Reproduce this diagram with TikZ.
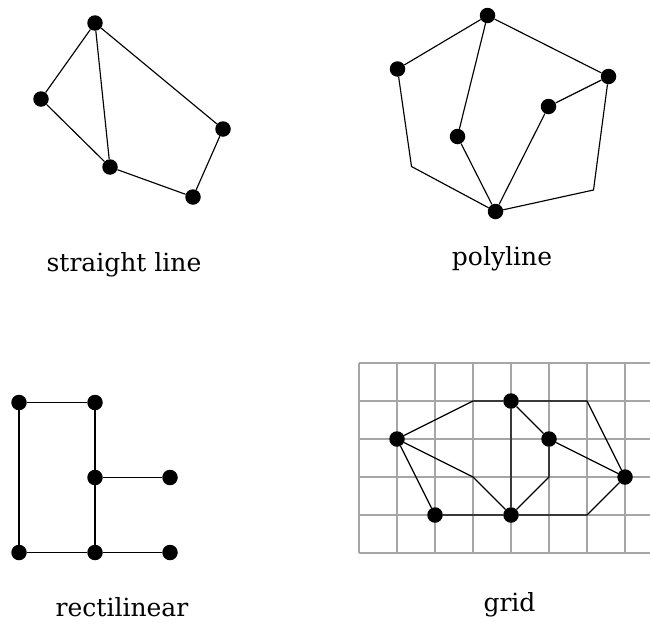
\documentclass[tikz,border=0pt]{standalone}
\usepackage{fontspec}
\setmainfont{DejaVu Serif}
\begin{document}
\begin{tikzpicture}[x=1pt,y=-1pt,
  vtx/.style={circle,fill=black,inner sep=0pt,minimum size=15.5pt},
  edge/.style={draw=black,line width=1.15pt},
  gridline/.style={draw=black!35,line width=1.4pt},
  lbl/.style={anchor=base,font=\fontsize{25}{30}\selectfont,inner sep=0pt}]
\useasboundingbox (0,0) rectangle (650,624);

% ---- straight line
\node[vtx] (a1) at (95,23) {};
\node[vtx] (a2) at (41,99) {};
\node[vtx] (a3) at (223,129) {};
\node[vtx] (a4) at (110,167) {};
\node[vtx] (a5) at (193,197) {};
\draw[edge] (a1)--(a2) (a1)--(a4) (a1)--(a3) (a2)--(a4) (a4)--(a5) (a5)--(a3);
\node[lbl] (l1) at (124,271.5) {straight line};

% ---- polyline
\node[vtx] (b1) at (487.5,15.5) {};
\node[vtx] (b2) at (397.5,69) {};
\node[vtx] (b3) at (608.5,76.5) {};
\node[vtx] (b4) at (548.5,106.5) {};
\node[vtx] (b5) at (457.5,136.5) {};
\node[vtx] (b6) at (495.5,211.5) {};
\coordinate (bb1) at (411.5,166.5);
\coordinate (bb2) at (593.5,190);
\draw[edge] (b1)--(b2) (b1)--(b3) (b1)--(b5) (b5)--(b6) (b6)--(b4) (b4)--(b3);
\draw[edge] (b2)--(bb1)--(b6);
\draw[edge] (b3)--(bb2)--(b6);
\node[lbl] (l2) at (502,265) {polyline};

% ---- rectilinear
\node[vtx] (c1) at (19,402.5) {};
\node[vtx] (c2) at (95,402.5) {};
\node[vtx] (c3) at (95,477.5) {};
\node[vtx] (c4) at (170,477.5) {};
\node[vtx] (c5) at (19,552.5) {};
\node[vtx] (c6) at (95,552.5) {};
\node[vtx] (c7) at (170,552.5) {};
\draw[edge] (c1)--(c2) (c1)--(c5) (c2)--(c3) (c3)--(c4) (c3)--(c6) (c5)--(c6) (c6)--(c7);
\node[lbl] (l3) at (122,616.5) {rectilinear};

% ---- grid
\foreach \i in {0,...,7} \draw[gridline] (359+38*\i,363)--(359+38*\i,553);
\foreach \j in {0,...,5} \draw[gridline] (359,363+38*\j)--(650,363+38*\j);
\node[vtx] (d1) at (511,401) {};
\node[vtx] (d2) at (397,439) {};
\node[vtx] (d3) at (549,439) {};
\node[vtx] (d4) at (625,477) {};
\node[vtx] (d5) at (435,515) {};
\node[vtx] (d6) at (511,515) {};
\coordinate (g1) at (473,401);
\coordinate (g2) at (587,401);
\coordinate (g3) at (549,477);
\coordinate (g4) at (473,477);
\coordinate (g5) at (587,515);
\draw[edge] (d2)--(g1)--(d1);
\draw[edge] (d1)--(g2)--(d4);
\draw[edge] (d1)--(d6) (d1)--(d3) (d3)--(d4) (d2)--(d5) (d5)--(d6);
\draw[edge] (d3)--(g3)--(d6);
\draw[edge] (d2)--(g4)--(d6);
\draw[edge] (d6)--(g5)--(d4);
\node[lbl] (l4) at (509.5,611.5) {grid};
\end{tikzpicture}
\end{document}
